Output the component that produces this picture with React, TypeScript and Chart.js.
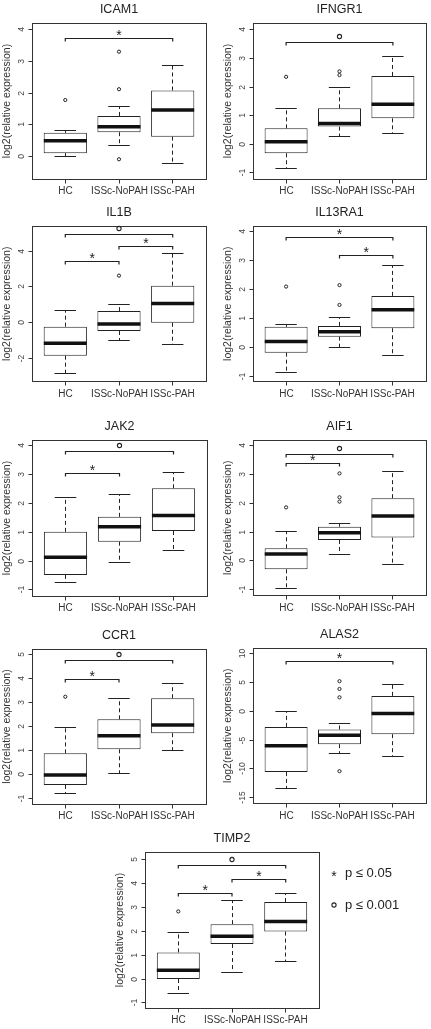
import React, { useEffect, useRef } from "react";
import { Chart, registerables } from "chart.js";

Chart.register(...registerables);

// ---------------- data ----------------
const groups = ["HC", "ISSc-NoPAH", "ISSc-PAH"];
const genes = ["ICAM1", "IFNGR1", "IL1B", "IL13RA1", "JAK2", "AIF1", "CCR1", "ALAS2", "TIMP2"];
const yTitle = "log2(relative expression)";

// five-number summaries per group: [lower whisker, Q1, median, Q3, upper whisker]
const icam1Box = [[0.0, 0.11, 0.5, 0.75, 0.81], [0.35, 0.77, 0.94, 1.28, 1.57], [-0.21, 0.63, 1.47, 2.08, 2.88]];
const icam1Out = [[1.78], [-0.08, 2.12, 3.3], []];
const icam1Sig = [[1, 3, 3.72, "*"]];
const icam1Ticks = [0, 1, 2, 3, 4];
const icam1Lim = [-0.7, 4.2];

const ifngr1Box = [[-0.85, -0.31, 0.09, 0.56, 1.26], [0.27, 0.62, 0.73, 1.26, 1.98], [0.38, 0.91, 1.4, 2.39, 3.06]];
const ifngr1Out = [[2.36], [2.42, 2.55], []];
const ifngr1Sig = [[1, 3, 3.55, "o"]];
const ifngr1Ticks = [-1, 0, 1, 2, 3, 4];
const ifngr1Lim = [-1.21, 4.24];

const il1bBox = [[-2.83, -1.84, -1.15, -0.22, 0.67], [-1.0, -0.46, -0.07, 0.65, 1.03], [-1.21, 0.0, 1.08, 2.07, 3.88]];
const il1bOut = [[], [2.63], []];
const il1bSig = [[1, 2, 3.41, "*"], [2, 3, 4.25, "*"], [1, 3, 4.9, "o"]];
const il1bTicks = [-2, 0, 2, 4];
const il1bLim = [-3.28, 5.4];

const il13ra1Box = [[-0.86, -0.17, 0.21, 0.72, 0.8], [0.01, 0.38, 0.55, 0.75, 1.03], [-0.25, 0.67, 1.3, 1.78, 2.84]];
const il13ra1Out = [[2.1], [1.47, 2.15], []];
const il13ra1Sig = [[2, 3, 3.16, "*"], [1, 3, 3.78, "*"]];
const il13ra1Ticks = [-1, 0, 1, 2, 3, 4];
const il13ra1Lim = [-1.16, 4.18];

const jak2Box = [[-0.75, -0.48, 0.13, 1.01, 2.19], [-0.05, 0.67, 1.19, 1.53, 2.31], [0.36, 1.04, 1.58, 2.52, 3.07]];
const jak2Out = [[], [], []];
const jak2Sig = [[1, 2, 3.03, "*"], [1, 3, 3.78, "o"]];
const jak2Ticks = [-1, 0, 1, 2, 3, 4];
const jak2Lim = [-1.21, 4.19];

const aif1Box = [[-0.95, -0.29, 0.24, 0.44, 1.02], [0.24, 0.73, 0.98, 1.19, 1.31], [-0.14, 0.81, 1.56, 2.18, 3.1]];
const aif1Out = [[1.86], [2.06, 2.21, 3.04], []];
const aif1Sig = [[1, 2, 3.37, "*"], [1, 3, 3.68, "o"]];
const aif1Ticks = [-1, 0, 1, 2, 3, 4];
const aif1Lim = [-1.2, 4.2];

const ccr1Box = [[-0.82, -0.45, -0.03, 0.87, 1.96], [0.03, 1.04, 1.6, 2.29, 3.14], [0.97, 1.71, 2.05, 3.17, 3.77]];
const ccr1Out = [[3.23], [], []];
const ccr1Sig = [[1, 2, 3.93, "*"], [1, 3, 4.76, "o"]];
const ccr1Ticks = [-1, 0, 1, 2, 3, 4, 5];
const ccr1Lim = [-1.24, 5.22];

const alas2Box = [[-13.4, -10.52, -6.01, -2.72, 0.0], [-7.33, -5.72, -4.16, -3.17, -2.08], [-7.92, -3.99, -0.4, 2.65, 4.68]];
const alas2Out = [[], [-10.4, 2.4, 3.85, 5.2], []];
const alas2Sig = [[1, 3, 8.54, "*"]];
const alas2Ticks = [-15, -10, -5, 0, 5, 10];
const alas2Lim = [-16.0, 10.95];

const timp2Box = [[-0.61, 0.0, 0.37, 1.11, 1.92], [0.29, 1.46, 1.78, 2.29, 3.28], [0.73, 1.98, 2.4, 3.21, 3.58]];
const timp2Out = [[2.82], [], []];
const timp2Sig = [[1, 2, 3.58, "*"], [2, 3, 4.14, "*"], [1, 3, 4.72, "o"]];
const timp2Ticks = [-1, 0, 1, 2, 3, 4, 5];
const timp2Lim = [-1.21, 5.3];

const legendSymbols = ["*", "o"];
const legendLabels = ["p \u2264 0.05", "p \u2264 0.001"];

// ---------------- layout (plot rectangles in page px: left, top, right, bottom) ----------------
const plotRects = [
  [32, 23, 207, 179],
  [253, 23, 427, 179],
  [32, 226, 207, 381.5],
  [253, 226, 427, 381.5],
  [32, 440, 207, 596],
  [253, 440, 427, 595.5],
  [32, 649, 207, 804],
  [253, 648, 427, 803.5],
  [145, 852, 319, 1008],
];

const panels = [
  { box: icam1Box, out: icam1Out, sig: icam1Sig, ticks: icam1Ticks, lim: icam1Lim },
  { box: ifngr1Box, out: ifngr1Out, sig: ifngr1Sig, ticks: ifngr1Ticks, lim: ifngr1Lim },
  { box: il1bBox, out: il1bOut, sig: il1bSig, ticks: il1bTicks, lim: il1bLim },
  { box: il13ra1Box, out: il13ra1Out, sig: il13ra1Sig, ticks: il13ra1Ticks, lim: il13ra1Lim },
  { box: jak2Box, out: jak2Out, sig: jak2Sig, ticks: jak2Ticks, lim: jak2Lim },
  { box: aif1Box, out: aif1Out, sig: aif1Sig, ticks: aif1Ticks, lim: aif1Lim },
  { box: ccr1Box, out: ccr1Out, sig: ccr1Sig, ticks: ccr1Ticks, lim: ccr1Lim },
  { box: alas2Box, out: alas2Out, sig: alas2Sig, ticks: alas2Ticks, lim: alas2Lim },
  { box: timp2Box, out: timp2Out, sig: timp2Sig, ticks: timp2Ticks, lim: timp2Lim },
].map((p, i) => ({ ...p, name: genes[i], rect: plotRects[i], legend: i === genes.length - 1 }));

// ---------------- style ----------------
const FONT = '"Liberation Sans", Arial, Helvetica, sans-serif';
const INK = "#222";
const BOX_HALF = 0.4;
const CAP_HALF = 0.2;
const X_MIN = 0.38;
const X_MAX = 3.62;

const crisp = (v: number) => Math.round(v - 0.5) + 0.5;

function drawSymbol(ctx: CanvasRenderingContext2D, sym: string, x: number, y: number) {
  ctx.fillStyle = INK;
  ctx.strokeStyle = INK;
  if (sym === "*") {
    ctx.font = `14px ${FONT}`;
    ctx.textAlign = "center";
    ctx.textBaseline = "alphabetic";
    ctx.fillText("*", x, y + 8);
  } else {
    ctx.beginPath();
    ctx.lineWidth = 1.1;
    ctx.arc(x, y, 2.1, 0, Math.PI * 2);
    ctx.stroke();
  }
}

function makePlugin(p: any) {
  return {
    id: "rboxplot",
    afterDatasetsDraw(chart: any) {
      const ctx: CanvasRenderingContext2D = chart.ctx;
      const xs = chart.scales.x;
      const ys = chart.scales.y;
      const seg = (x1: number, y1: number, x2: number, y2: number) => {
        ctx.beginPath();
        ctx.moveTo(x1, y1);
        ctx.lineTo(x2, y2);
        ctx.stroke();
      };
      ctx.save();
      p.box.forEach((s: number[], i: number) => {
        const g = i + 1;
        const cx = crisp(xs.getPixelForValue(g));
        const [lo, q1, med, q3, hi] = s.map((v) => ys.getPixelForValue(v));
        ctx.strokeStyle = INK;
        ctx.lineWidth = 1;
        ctx.setLineDash([4, 3]);
        seg(cx, q3, cx, hi);
        seg(cx, q1, cx, lo);
        ctx.setLineDash([]);
        const c1 = xs.getPixelForValue(g - CAP_HALF);
        const c2 = xs.getPixelForValue(g + CAP_HALF);
        seg(c1, crisp(hi), c2, crisp(hi));
        seg(c1, crisp(lo), c2, crisp(lo));
        ctx.strokeStyle = "#111";
        ctx.lineWidth = 3.5;
        seg(xs.getPixelForValue(g - BOX_HALF), med, xs.getPixelForValue(g + BOX_HALF), med);
      });
      ctx.restore();
    },
    afterDraw(chart: any) {
      const ctx: CanvasRenderingContext2D = chart.ctx;
      const a = chart.chartArea;
      const xs = chart.scales.x;
      const ys = chart.scales.y;
      const seg = (x1: number, y1: number, x2: number, y2: number) => {
        ctx.beginPath();
        ctx.moveTo(x1, y1);
        ctx.lineTo(x2, y2);
        ctx.stroke();
      };
      ctx.save();
      // frame
      ctx.strokeStyle = "#333";
      ctx.lineWidth = 1;
      const L = crisp(a.left), T = crisp(a.top), R = crisp(a.right), B = crisp(a.bottom);
      ctx.strokeRect(L, T, R - L, B - T);
      // y ticks + labels
      ctx.fillStyle = "#444";
      ctx.font = `8.5px ${FONT}`;
      ctx.textAlign = "center";
      ctx.textBaseline = "middle";
      p.ticks.forEach((t: number) => {
        const py = crisp(ys.getPixelForValue(t));
        seg(L - 4, py, L, py);
        ctx.save();
        ctx.translate(a.left - 10, py);
        ctx.rotate(-Math.PI / 2);
        ctx.fillText(String(t), 0, 0);
        ctx.restore();
      });
      // x ticks + labels
      ctx.fillStyle = "#333";
      ctx.font = `10px ${FONT}`;
      groups.forEach((gname, i) => {
        const px = crisp(xs.getPixelForValue(i + 1));
        seg(px, B, px, B + 4);
        ctx.fillText(gname, px, a.bottom + 12.5);
      });
      // title
      ctx.fillStyle = INK;
      ctx.font = `12.5px ${FONT}`;
      ctx.fillText(p.name, (a.left + a.right) / 2, a.top - 13);
      // y-axis title
      ctx.save();
      ctx.fillStyle = "#333";
      ctx.font = `10.5px ${FONT}`;
      ctx.translate(a.left - 25, (a.top + a.bottom) / 2);
      ctx.rotate(-Math.PI / 2);
      ctx.fillText(yTitle, 0, 0);
      ctx.restore();
      // significance brackets
      p.sig.forEach((b: any[]) => {
        const x1 = xs.getPixelForValue(b[0]);
        const x2 = xs.getPixelForValue(b[1]);
        const y = crisp(ys.getPixelForValue(b[2]));
        ctx.strokeStyle = INK;
        ctx.lineWidth = 1.2;
        ctx.beginPath();
        ctx.moveTo(x1, y + 3);
        ctx.lineTo(x1, y);
        ctx.lineTo(x2, y);
        ctx.lineTo(x2, y + 3);
        ctx.stroke();
        drawSymbol(ctx, b[3], (x1 + x2) / 2, y - (b[3] === "*" ? 6.5 : 6));
      });
      // legend
      if (p.legend) {
        legendSymbols.forEach((sym, i) => {
          const ly = a.top + 21 + i * 32;
          drawSymbol(ctx, sym, a.right + 15, ly);
          ctx.fillStyle = INK;
          ctx.font = `13px ${FONT}`;
          ctx.textAlign = "left";
          ctx.textBaseline = "middle";
          ctx.fillText(legendLabels[i], a.right + 26, ly);
        });
      }
      ctx.restore();
    },
  };
}

function BoxPanel({ p }: { p: any }) {
  const ref = useRef<HTMLCanvasElement>(null);
  const [pl, pt, pr, pb] = p.rect;
  const cl = Math.floor(pl - 32);
  const ct = Math.floor(pt - 24);
  const cr = p.legend ? 431 : Math.ceil(pr + 4);
  const cb = Math.ceil(pb + 22);
  const w = cr - cl;
  const h = cb - ct;
  // box width in px follows from the x scale (units per pixel)
  const boxPx = ((pr - pl) * BOX_HALF * 2) / (X_MAX - X_MIN);

  useEffect(() => {
    if (!ref.current) return;
    const chart = new Chart(ref.current, {
      type: "bar",
      data: {
        datasets: [
          {
            type: "bar",
            data: p.box.map((s: number[], i: number) => ({ x: i + 1, y: [s[1], s[3]] })),
            backgroundColor: "#ffffff",
            borderColor: INK,
            borderWidth: 1,
            borderSkipped: false,
            barThickness: boxPx,
            inflateAmount: 0,
          } as any,
          {
            type: "scatter",
            data: p.out.flatMap((arr: number[], i: number) => arr.map((v) => ({ x: i + 1, y: v }))),
            pointRadius: 1.6,
            pointBorderWidth: 1,
            pointBorderColor: INK,
            pointBackgroundColor: "#ffffff",
          } as any,
        ],
      },
      options: {
        animation: false,
        responsive: false,
        maintainAspectRatio: false,
        events: [],
        layout: { padding: { left: pl - cl, top: pt - ct, right: cr - pr, bottom: cb - pb } },
        plugins: { legend: { display: false }, tooltip: { enabled: false }, title: { display: false } },
        scales: {
          x: {
            type: "linear",
            min: X_MIN,
            max: X_MAX,
            bounds: "data",
            offset: false,
            display: false,
            ticks: { stepSize: 1, includeBounds: false },
          },
          y: { type: "linear", min: p.lim[0], max: p.lim[1], display: false },
        },
      } as any,
      plugins: [makePlugin(p)],
    });
    return () => chart.destroy();
  }, []);

  return (
    <canvas
      ref={ref}
      width={w}
      height={h}
      style={{ position: "absolute", left: cl, top: ct, width: w, height: h }}
    />
  );
}

export default function App() {
  return (
    <div style={{ position: "absolute", left: 0, top: 0, width: 431, height: 1029, background: "#fff", overflow: "hidden" }}>
      {panels.map((p) => (
        <BoxPanel key={p.name} p={p} />
      ))}
    </div>
  );
}
